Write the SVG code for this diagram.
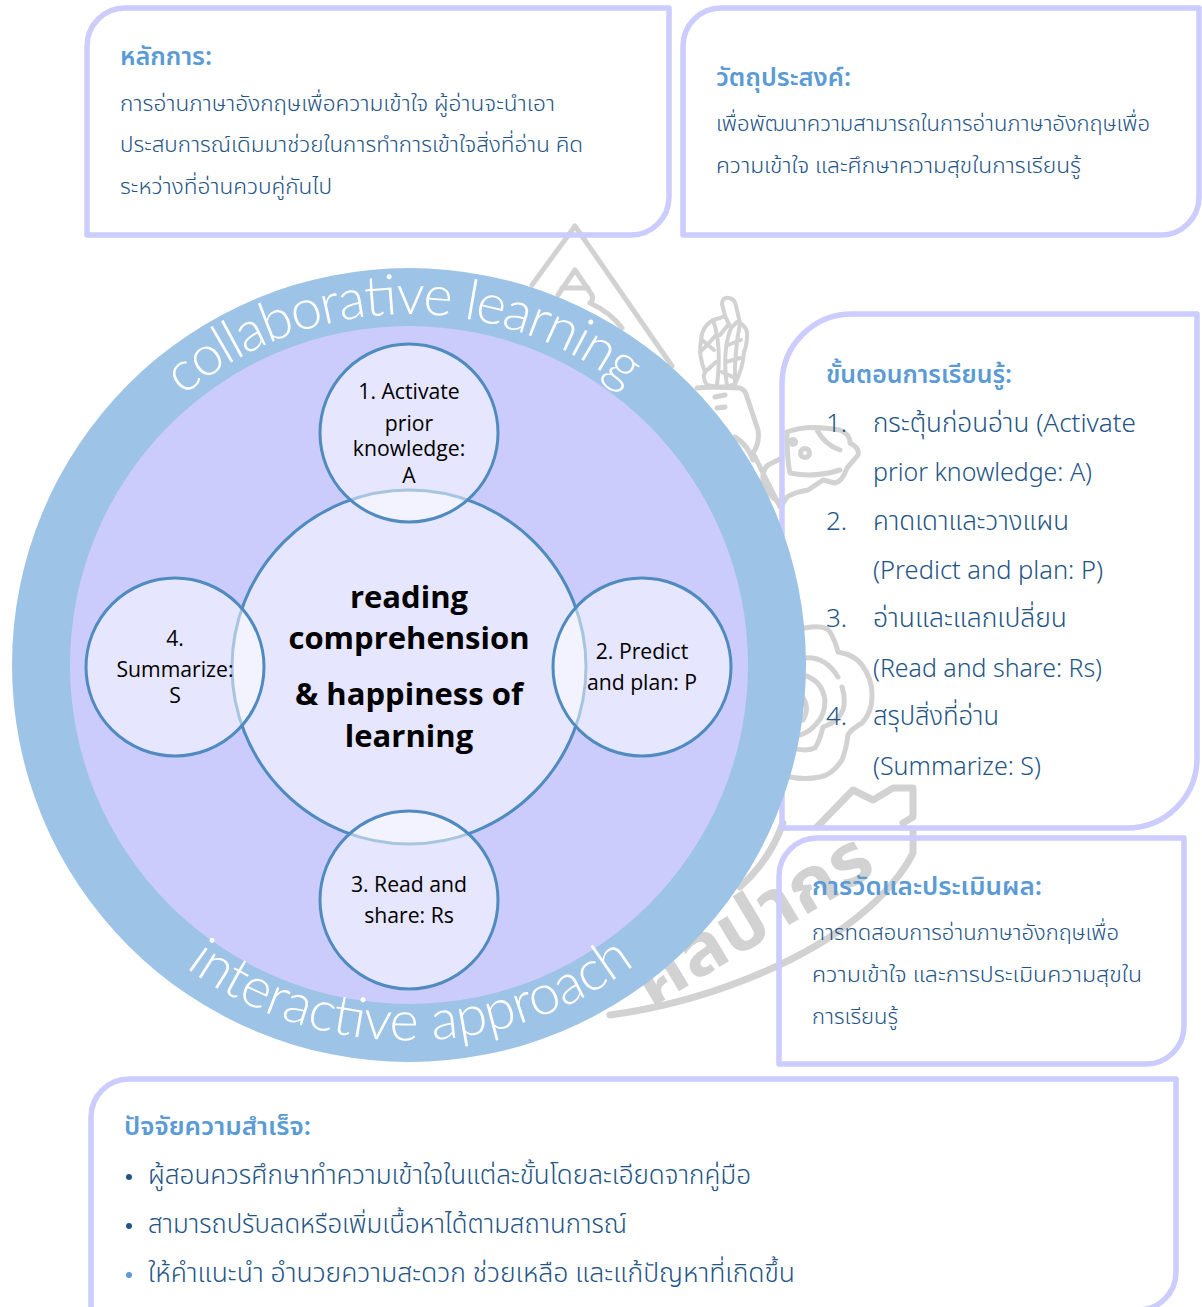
<svg xmlns="http://www.w3.org/2000/svg" width="1202" height="1307" viewBox="0 0 1202 1307">
<style>
.wm{fill:none;stroke:#d2d2d2;stroke-width:5;stroke-linecap:round;stroke-linejoin:round}
.wt{stroke-width:7}
.wh{stroke-width:4}
.box{fill:none;stroke:#ccccff;stroke-width:5.5;stroke-linejoin:round}
.h{font-family:"Noto Sans Thai","Noto Sans","DejaVu Sans",sans-serif;font-size:25px;font-weight:600;fill:#5b9bd5}
.b{font-family:"Noto Sans Thai","Noto Sans","DejaVu Sans",sans-serif;font-size:22px;font-weight:300;fill:#235486}
.l{font-family:"Noto Sans Thai","Noto Sans","DejaVu Sans",sans-serif;font-size:26px;font-weight:300;fill:#235486}
.c{font-family:"Open Sans",sans-serif;font-size:21.200px;fill:#000;text-anchor:middle}
.m{font-family:"Open Sans",sans-serif;font-size:31px;font-weight:700;fill:#000;text-anchor:middle}
.r{font-family:Lato,"Open Sans",sans-serif;font-size:56px;font-weight:300;fill:#fff}
.s{fill:#fff;fill-opacity:.5;stroke:#4f8bbf;stroke-width:3}
</style>
<defs>
<path id="arcTop" d="M183.400,396.100 A351,351 0 0 1 713,490"/>
<path id="arcBot" d="M185.400,967.300 A376,376 0 0 0 700,902"/>
</defs>
<g id="watermark">
<path class="wm" d="M532,285 L575,226 L672,366"/>
<path class="wm" d="M558,295 L575,270 L592,295 Q594,300 590,303 M562,288 H588 M590,303 Q610,312 622,328"/>
<path class="wm wh" d="M722,304 Q722,297 729,298 Q735,299 736,306 L740,323 Q748,328 747,336 Q747,345 744,352 Q743,368 735,384 Q722,389 707,385 Q702,378 705,372 Q698,355 701,340 Q702,326 713,320 L720,318 L725,316 Z"/>
<path class="wm wh" d="M725,316 L731,328 L737,322 M713,320 Q722,345 717,385 M731,328 Q722,350 727,386 M740,323 Q734,355 735,384 M702,340 L714,350 M705,372 L716,362 M728,345 L741,340 M726,362 L740,358 M722,372 L735,378 M720,335 L728,325 M700,352 Q708,345 716,335"/>
<path class="wm" d="M697,388 L712,387 L740,388 Q745,390 746,394 L758,430 Q760,443 753,453 L780,507 M715,397 L725,395 M717,408 L725,407 M735,437 Q748,445 753,460"/>
<path class="wm" d="M787,432 Q807,424 840,430 Q850,434 850,443 Q860,448 858,455 L847,468 Q842,482 835,483 L823,480 L808,490 Q795,492 787,497 L783,503 Q770,500 763,482 Q762,470 768,465 L782,458 M787,432 Q787,460 790,473 Q815,478 840,470 M817,430 Q825,445 840,450"/>
<circle class="wm" cx="805" cy="453" r="4.500"/><circle class="wm" cx="793" cy="442" r="2.500"/>
<path class="wm" d="M805,628 Q825,624 830,632 Q835,640 838,652 Q855,655 862,665 Q873,680 872,697 Q872,712 862,723 Q850,730 848,735 Q846,750 842,760 Q832,775 820,777 Q805,780 790,777"/>
<path class="wm" d="M803,658 Q825,655 838,677 M842,687 Q846,700 843,710 Q838,722 823,727 Q820,740 815,748 Q805,752 793,748 M803,675 Q822,680 825,700 Q825,715 817,723 Q810,732 800,735 M803,698 Q810,708 803,720"/>
<path class="wm wt" d="M817,827 L853,790 L873,800 L893,788 H913 V817 L903,823 M913,832 V853 C905,870 885,895 860,915 C800,965 700,1003 610,1015 M740,887 Q770,860 783,823"/>
<text x="651" y="1008" transform="rotate(-31 651 1008)" textLength="265" lengthAdjust="spacingAndGlyphs" font-family="'Noto Sans Thai','Noto Sans','DejaVu Sans',sans-serif" font-size="72" font-weight="700" fill="#d2d2d2">ศิลปากร</text>
</g>
<g id="box-principle"><path class="box" d="M125,8 H669 V197 A38,38 0 0 1 631,235 H87 V46 A38,38 0 0 1 125,8 Z"/></g>
<g id="box-objective"><path class="box" d="M721,8 H1199 V197 A38,38 0 0 1 1161,235 H683 V46 A38,38 0 0 1 721,8 Z"/></g>
<g id="box-steps"><path class="box" d="M852,314 H1197 V758 A70,70 0 0 1 1127,828 H782 V384 A70,70 0 0 1 852,314 Z"/></g>
<g id="box-eval"><path class="box" d="M817,838 H1184 V1026 A38,38 0 0 1 1146,1064 H779 V876 A38,38 0 0 1 817,838 Z"/></g>
<g id="box-factors"><path class="box" d="M129,1079 H1176 V1272 A38,38 0 0 1 1138,1310 H91 V1117 A38,38 0 0 1 129,1079 Z"/></g>
<g id="ring">
<circle cx="409" cy="665" r="397" fill="#9dc3e6"/>
<circle cx="409" cy="665" r="339" fill="#ccccfc"/>
<text class="r"><textPath href="#arcTop" textLength="478" lengthAdjust="spacing">collaborative learning</textPath></text>
<text class="r"><textPath href="#arcBot" textLength="482" lengthAdjust="spacing">interactive approach</textPath></text>
</g>
<g id="node-center"><circle class="s" cx="409" cy="667" r="177"/>
<text class="m" x="409" y="608">reading</text><text class="m" x="409" y="649">comprehension</text><text class="m" x="409" y="705">&amp; happiness of</text><text class="m" x="409" y="747">learning</text></g>
<g id="node-1"><circle class="s" cx="409" cy="433" r="89"/>
<text class="c" x="409" y="399">1. Activate</text><text class="c" x="409" y="431">prior</text><text class="c" x="409" y="456">knowledge:</text><text class="c" x="409" y="483">A</text></g>
<g id="node-2"><circle class="s" cx="642" cy="667" r="89"/>
<text class="c" x="642" y="659">2. Predict</text><text class="c" x="642" y="690">and plan: P</text></g>
<g id="node-3"><circle class="s" cx="409" cy="900" r="89"/>
<text class="c" x="409" y="892">3. Read and</text><text class="c" x="409" y="923">share: Rs</text></g>
<g id="node-4"><circle class="s" cx="175" cy="667" r="89"/>
<text class="c" x="175" y="646">4.</text><text class="c" x="175" y="677">Summarize:</text><text class="c" x="175" y="703">S</text></g>
<g id="text-principle">
<text class="h" x="120" y="65" textLength="92" lengthAdjust="spacingAndGlyphs">หลักการ:</text>
<text class="b" x="120" y="111" textLength="435" lengthAdjust="spacingAndGlyphs">การอ่านภาษาอังกฤษเพื่อความเข้าใจ ผู้อ่านจะนำเอา</text>
<text class="b" x="120" y="152" textLength="463" lengthAdjust="spacingAndGlyphs">ประสบการณ์เดิมมาช่วยในการทำการเข้าใจสิ่งที่อ่าน คิด</text>
<text class="b" x="120" y="194" textLength="212" lengthAdjust="spacingAndGlyphs">ระหว่างที่อ่านควบคู่กันไป</text>
</g>
<g id="text-objective">
<text class="h" x="716" y="86" textLength="135" lengthAdjust="spacingAndGlyphs">วัตถุประสงค์:</text>
<text class="b" x="716" y="131" textLength="434" lengthAdjust="spacingAndGlyphs">เพื่อพัฒนาความสามารถในการอ่านภาษาอังกฤษเพื่อ</text>
<text class="b" x="716" y="173" textLength="365" lengthAdjust="spacingAndGlyphs">ความเข้าใจ และศึกษาความสุขในการเรียนรู้</text>
</g>
<g id="text-steps">
<text class="h" x="826" y="383" textLength="186" lengthAdjust="spacingAndGlyphs">ขั้นตอนการเรียนรู้:</text>
<text class="l" x="826" y="432">1.</text><text class="l" x="873" y="432" textLength="263" lengthAdjust="spacingAndGlyphs">กระตุ้นก่อนอ่าน (Activate</text>
<text class="l" x="873" y="481" textLength="219" lengthAdjust="spacingAndGlyphs">prior knowledge: A)</text>
<text class="l" x="826" y="530">2.</text><text class="l" x="873" y="530" textLength="196" lengthAdjust="spacingAndGlyphs">คาดเดาและวางแผน</text>
<text class="l" x="873" y="579" textLength="230" lengthAdjust="spacingAndGlyphs">(Predict and plan: P)</text>
<text class="l" x="826" y="627">3.</text><text class="l" x="873" y="627" textLength="194" lengthAdjust="spacingAndGlyphs">อ่านและแลกเปลี่ยน</text>
<text class="l" x="873" y="677" textLength="229" lengthAdjust="spacingAndGlyphs">(Read and share: Rs)</text>
<text class="l" x="826" y="725">4.</text><text class="l" x="873" y="725" textLength="126" lengthAdjust="spacingAndGlyphs">สรุปสิ่งที่อ่าน</text>
<text class="l" x="873" y="775" textLength="168" lengthAdjust="spacingAndGlyphs">(Summarize: S)</text>
</g>
<g id="text-eval">
<text class="h" x="812" y="895" textLength="230" lengthAdjust="spacingAndGlyphs">การวัดและประเมินผล:</text>
<text class="b" x="812" y="940" textLength="307" lengthAdjust="spacingAndGlyphs">การทดสอบการอ่านภาษาอังกฤษเพื่อ</text>
<text class="b" x="812" y="982" textLength="330" lengthAdjust="spacingAndGlyphs">ความเข้าใจ และการประเมินความสุขใน</text>
<text class="b" x="812" y="1024" textLength="86" lengthAdjust="spacingAndGlyphs">การเรียนรู้</text>
</g>
<g id="text-factors">
<text class="h" x="124" y="1135" textLength="187" lengthAdjust="spacingAndGlyphs">ปัจจัยความสำเร็จ:</text>
<circle cx="129" cy="1177" r="3" fill="#235486"/><text class="l" x="148" y="1184" textLength="603" lengthAdjust="spacingAndGlyphs">ผู้สอนควรศึกษาทำความเข้าใจในแต่ละขั้นโดยละเอียดจากคู่มือ</text>
<circle cx="129" cy="1226" r="3" fill="#235486"/><text class="l" x="148" y="1233" textLength="479" lengthAdjust="spacingAndGlyphs">สามารถปรับลดหรือเพิ่มเนื้อหาได้ตามสถานการณ์</text>
<circle cx="129" cy="1275" r="3" fill="#5b9bd5"/><text class="l" x="148" y="1282" textLength="647" lengthAdjust="spacingAndGlyphs">ให้คำแนะนำ อำนวยความสะดวก ช่วยเหลือ และแก้ปัญหาที่เกิดขึ้น</text>
</g>
</svg>
